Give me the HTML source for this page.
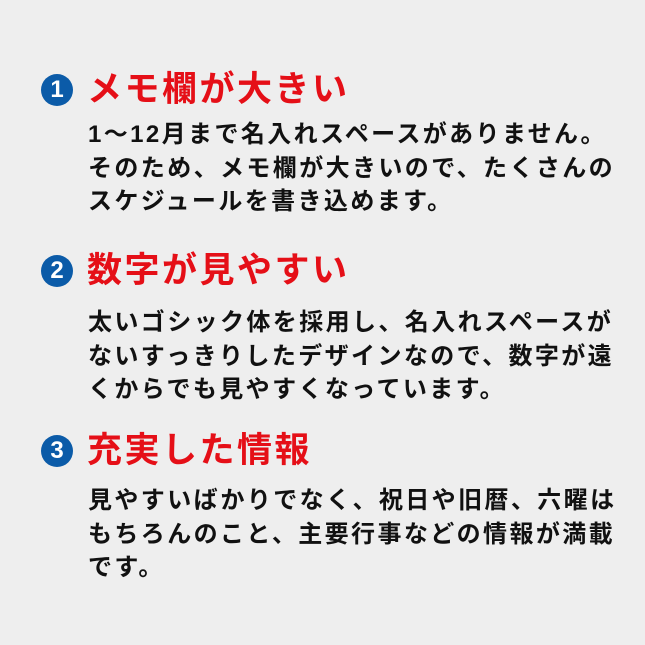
<!DOCTYPE html>
<html><head><meta charset="utf-8"><style>
body{margin:0;width:645px;height:645px;background:#eeeeee;position:relative;overflow:hidden;font-family:"Liberation Sans","Noto Sans CJK JP",sans-serif;font-weight:bold}
.c{position:absolute;left:41px;width:32px;height:32px;border-radius:50%;background:#0b5ba8;color:#fff;font-size:24px;line-height:32px;text-align:center}
.h{position:absolute;left:87px;color:#e50f17;font-size:35px;line-height:40px;letter-spacing:2.5px;white-space:nowrap}
.b{position:absolute;left:88px;color:#111;font-size:24px;line-height:33.5px;letter-spacing:2.4px;white-space:nowrap}
</style></head><body>
<div class="c" style="top:74px">1</div>
<div class="h" style="top:70px">メモ欄が大きい</div>
<div class="b" style="top:118px">1〜12月まで名入れスペースがありません。<br>そのため、メモ欄が大きいので、たくさんの<br>スケジュールを書き込めます。</div>
<div class="c" style="top:255px">2</div>
<div class="h" style="top:251px">数字が見やすい</div>
<div class="b" style="top:306px">太いゴシック体を採用し、名入れスペースが<br>ないすっきりしたデザインなので、数字が遠<br>くからでも見やすくなっています。</div>
<div class="c" style="top:435px">3</div>
<div class="h" style="top:431px">充実した情報</div>
<div class="b" style="top:484px">見やすいばかりでなく、祝日や旧暦、六曜は<br>もちろんのこと、主要行事などの情報が満載<br>です。</div>
</body></html>
